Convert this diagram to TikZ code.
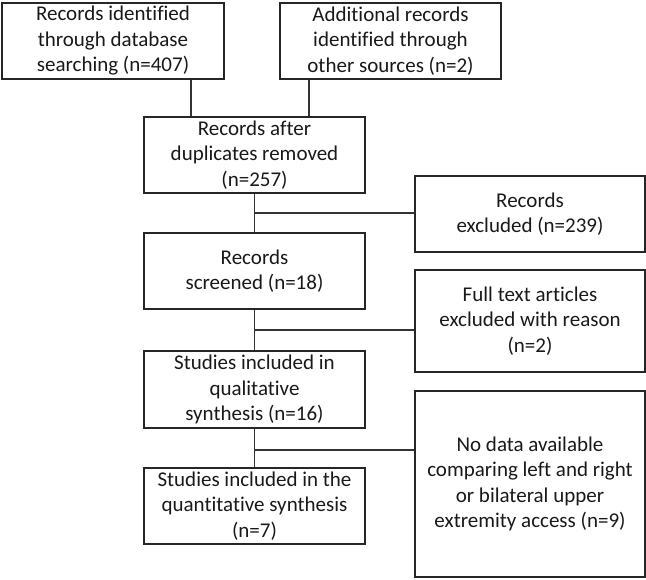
\documentclass[tikz,border=0pt]{standalone}
\usepackage{fontspec}
\setmainfont{Carlito}[Ligatures=NoCommon]
\begin{document}
\begin{tikzpicture}[x=1pt,y=1pt,
  box/.style={draw=black!85, line width=1.1pt, rectangle, align=center, inner sep=0pt,
    font=\fontsize{21}{25.5}\selectfont, text=black!90},
  link/.style={draw=black!80, line width=1.1pt}]
\useasboundingbox (0,0) rectangle (646,-579);
\node[box, minimum width=222, minimum height=76] (A) at (113,-41) {Records identified\\through database\\searching (n=407)};
\node[box, minimum width=221, minimum height=76] (B) at (390.5,-41) {Additional records\\identified through\\other sources (n=2)};
\node[box, minimum width=221, minimum height=76] (C) at (254.5,-155) {Records after\\duplicates removed\\(n=257)};
\node[box, minimum width=230, minimum height=76] (D) at (530,-214) {Records\\excluded (n=239)};
\node[box, minimum width=221, minimum height=76] (E) at (254.5,-271) {Records\\screened (n=18)};
\node[box, minimum width=230, minimum height=102] (F) at (530,-321) {Full text articles\\excluded with reason\\(n=2)};
\node[box, minimum width=221, minimum height=77] (G) at (254.5,-389.5) {Studies included in\\qualitative\\synthesis (n=16)};
\node[box, minimum width=221, minimum height=76] (H) at (254.5,-506) {Studies included in the\\quantitative synthesis\\(n=7)};
\node[box, minimum width=230, minimum height=186] (I) at (530,-484) {No data available\\comparing left and right\\or bilateral upper\\extremity access (n=9)};
\coordinate (ja) at (191,-100);
\coordinate (jb) at (309,-100);
\coordinate (k1) at (254.5,-213);
\coordinate (k2) at (254.5,-330);
\coordinate (k3) at (254.5,-450);
\draw[link] (A.south -| ja) -- (C.north -| ja);
\draw[link] (B.south -| jb) -- (C.north -| jb);
\draw[link] (C.south) -- (E.north);
\draw[link] (k1) -- (D.west |- k1);
\draw[link] (E.south) -- (G.north);
\draw[link] (k2) -- (F.west |- k2);
\draw[link] (G.south) -- (H.north);
\draw[link] (k3) -- (I.west |- k3);
\end{tikzpicture}
\end{document}
